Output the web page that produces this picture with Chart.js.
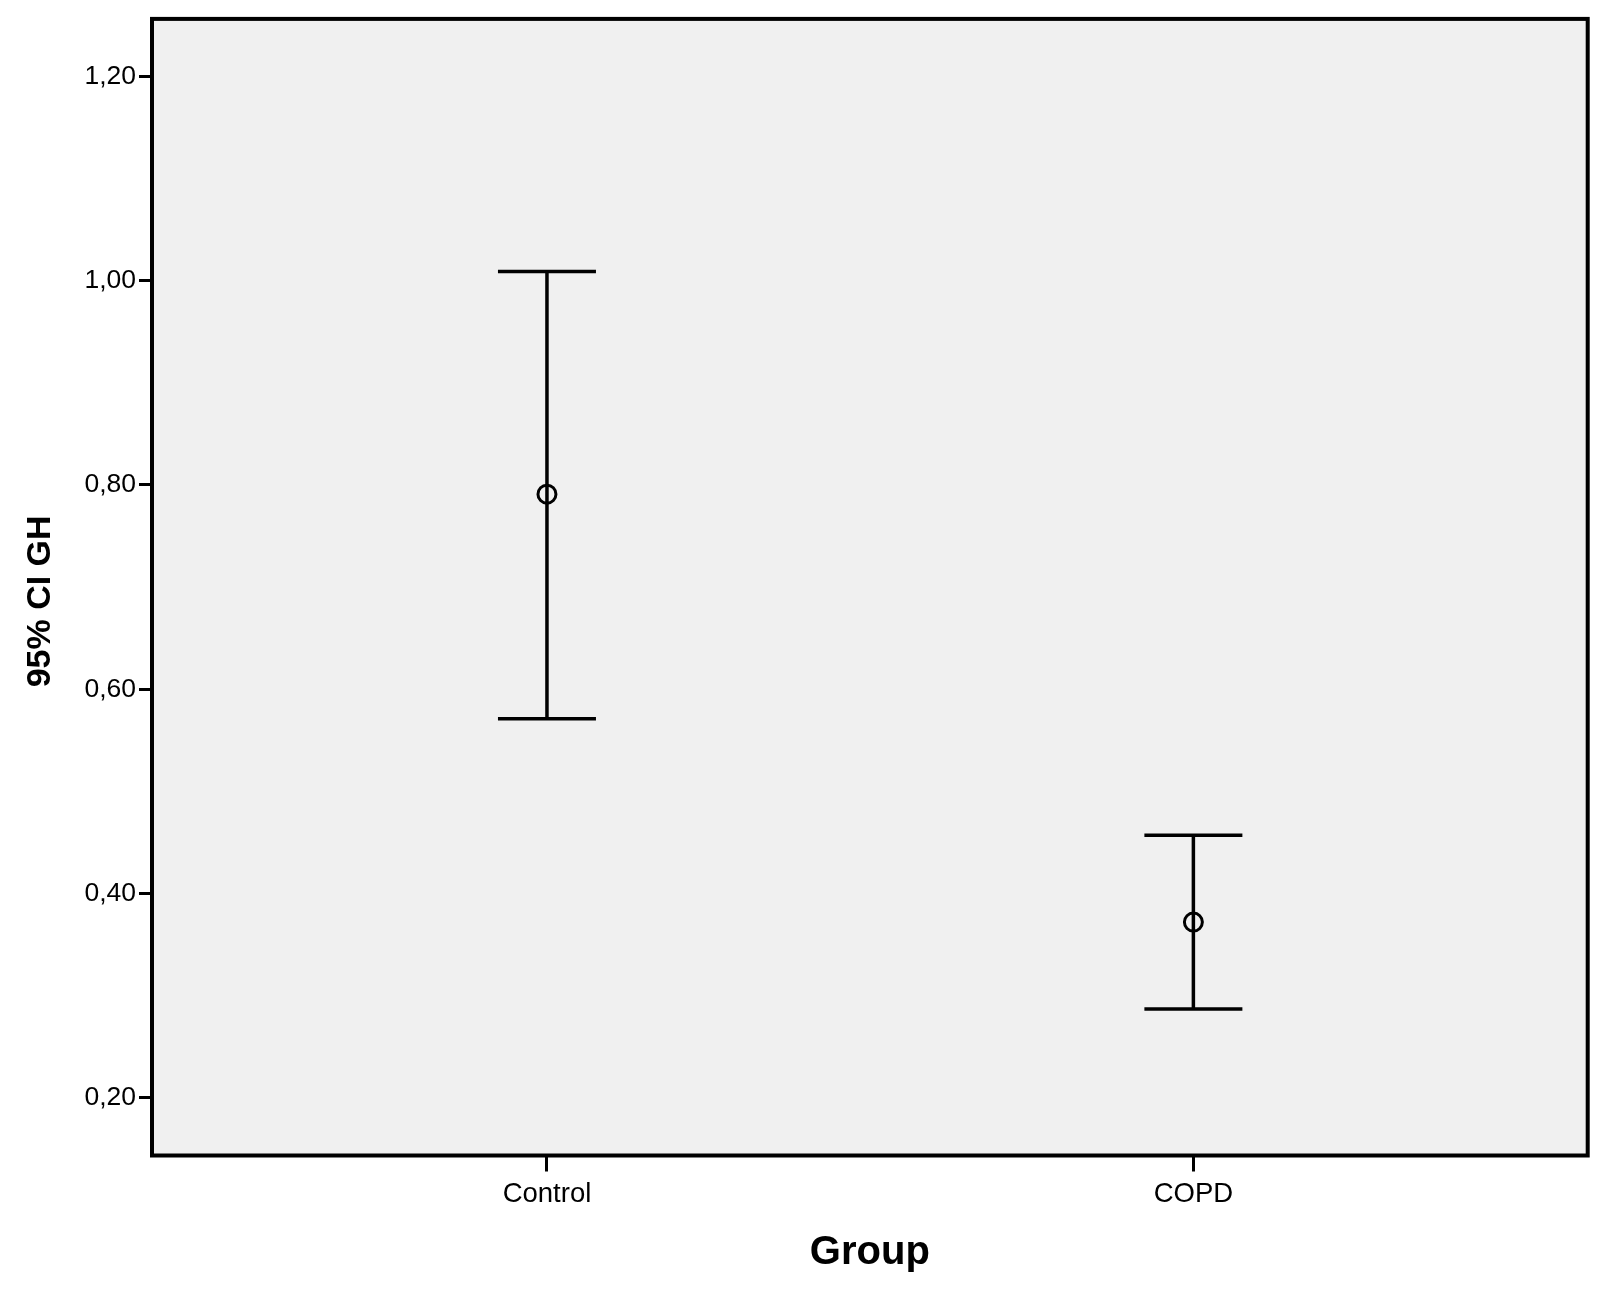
<!DOCTYPE html>
<html>
<head>
<meta charset="utf-8">
<script src="https://cdn.jsdelivr.net/npm/chart.js@4/dist/chart.umd.min.js"></script>
<style>
  html, body { margin: 0; padding: 0; background: #fff; }
  #wrap { width: 1606px; height: 1291px; }
</style>
</head>
<body>
<div id="wrap"><canvas id="c" width="1606" height="1291"></canvas></div>
<script>
// 95% CI error-bar plot: mean (circle) with lower/upper bounds per group
const groups = ["Control", "COPD"];
const means = [0.791, 0.372];
const lower = [0.571, 0.287];
const upper = [1.009, 0.457];
const yTicks = [0.2, 0.4, 0.6, 0.8, 1.0, 1.2];

const FONT = "'Liberation Sans', Arial, sans-serif";
const INK = "#000";

// whiskers + caps, drawn through the chart's scales
const errorBars = {
  id: "errorBars",
  beforeDatasetsDraw(chart) {
    const { ctx, scales: { x, y } } = chart;
    ctx.save();
    ctx.strokeStyle = INK;
    ctx.lineWidth = 3.5;
    groups.forEach((_, i) => {
      const px = x.getPixelForValue(i);
      const top = y.getPixelForValue(upper[i]);
      const bot = y.getPixelForValue(lower[i]);
      const cap = 49;
      ctx.beginPath();
      ctx.moveTo(px, top); ctx.lineTo(px, bot);
      ctx.moveTo(px - cap, top); ctx.lineTo(px + cap, top);
      ctx.moveTo(px - cap, bot); ctx.lineTo(px + cap, bot);
      ctx.stroke();
    });
    ctx.restore();
  },
};

// grey plot background and the black frame round it
const frame = {
  id: "frame",
  beforeDraw(chart) {
    const { ctx, chartArea: a } = chart;
    ctx.save();
    ctx.fillStyle = "#f0f0f0";
    ctx.fillRect(a.left, a.top, a.right - a.left, a.bottom - a.top);
    ctx.restore();
  },
  afterDraw(chart) {
    const { ctx, chartArea: a } = chart;
    ctx.save();
    ctx.strokeStyle = INK;
    ctx.lineWidth = 4;
    ctx.strokeRect(a.left, a.top, a.right - a.left, a.bottom - a.top);
    ctx.restore();
  },
};

new Chart(document.getElementById("c"), {
  type: "scatter",
  data: {
    datasets: [{
      data: means.map((m, i) => ({ x: i, y: m })),
      pointStyle: "circle",
      pointRadius: 9,
      pointHoverRadius: 9,
      borderWidth: 3,
      borderColor: INK,
      backgroundColor: "rgba(0,0,0,0)",
    }],
  },
  options: {
    responsive: false,
    animation: false,
    layout: { padding: { top: 18, right: 18.3, left: 0, bottom: 0 } },
    plugins: { legend: { display: false }, tooltip: { enabled: false } },
    scales: {
      x: {
        type: "linear",
        min: -0.611,
        max: 1.610,
        afterFit: (s) => { s.height = 135.5; },
        afterBuildTicks: (s) => { s.ticks = groups.map((_, i) => ({ value: i })); },
        border: { display: false },
        grid: { drawOnChartArea: false, drawTicks: true, tickLength: 16, tickWidth: 3, tickColor: INK },
        ticks: {
          color: INK, padding: 6, maxRotation: 0,
          font: { family: FONT, size: 27.5 },
          callback: (v) => groups[v],
        },
        title: {
          display: true, text: "Group", color: INK,
          font: { family: FONT, size: 40, weight: "bold" },
          padding: { top: 0, bottom: 14 },
        },
      },
      y: {
        min: 0.1435,
        max: 1.2563,
        afterFit: (s) => { s.width = 152; },
        afterBuildTicks: (s) => { s.ticks = yTicks.map((v) => ({ value: v })); },
        border: { display: false },
        grid: { drawOnChartArea: false, drawTicks: true, tickLength: 13, tickWidth: 3, tickColor: INK },
        ticks: {
          color: INK, padding: 3,
          font: { family: FONT, size: 26.5 },
          callback: (v) => v.toFixed(2).replace(".", ","),
        },
        title: {
          display: true, text: "95% CI GH   ", color: INK,
          font: { family: FONT, size: 34, weight: "bold" },
          padding: { top: 20, bottom: 0 },
        },
      },
    },
  },
  plugins: [frame, errorBars],
});
</script>
</body>
</html>
